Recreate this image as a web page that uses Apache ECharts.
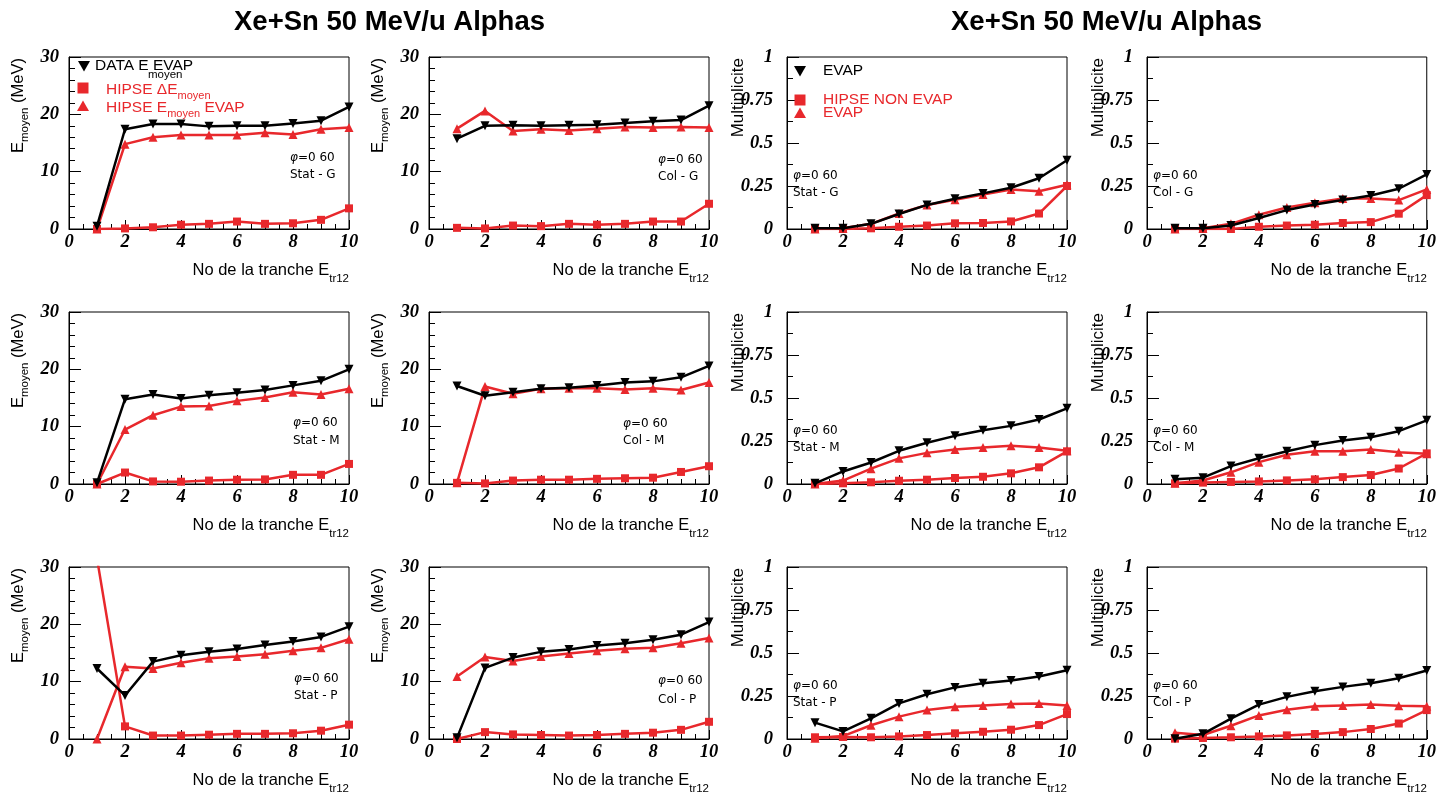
<!DOCTYPE html>
<html><head><meta charset="utf-8">
<script src="https://cdn.jsdelivr.net/npm/echarts@6/dist/echarts.min.js"></script>
<style>html,body{margin:0;padding:0;background:#fff}#c{width:1439px;height:792px}</style>
</head><body><div id="c"></div>
<script>
// ---------- DATA ----------
const tranches = [1,2,3,4,5,6,7,8,9,10];
const xTicks = [0,2,4,6,8,10];
const eTicks = [0,10,20,30];
const mTicks = [0,0.25,0.5,0.75,1];
const titleText = 'Xe+Sn 50 MeV/u Alphas';

// E moyen panels (black = DATA E_moyen EVAP, square = HIPSE ΔE_moyen, triangle = HIPSE E_moyen EVAP)
const eStatG_data  = [0.5,17.4,18.3,18.3,17.9,18.0,18.0,18.4,18.9,21.3];
const eStatG_delta = [0,0.1,0.3,0.75,0.9,1.3,0.9,1.0,1.6,3.6];
const eStatG_evap  = [0,14.8,16.0,16.4,16.4,16.4,16.8,16.5,17.4,17.7];
const eColG_data   = [15.75,18.0,18.1,18.0,18.1,18.2,18.5,18.8,19.0,21.5];
const eColG_delta  = [0.2,0.1,0.6,0.5,0.9,0.75,0.9,1.3,1.3,4.4];
const eColG_evap   = [17.5,20.6,17.1,17.4,17.2,17.5,17.8,17.7,17.8,17.7];
const eStatM_data  = [0.2,14.8,15.6,14.9,15.5,15.9,16.4,17.2,18.0,20.0];
const eStatM_delta = [0,2.0,0.45,0.4,0.6,0.75,0.8,1.6,1.6,3.5];
const eStatM_evap  = [0,9.5,12.0,13.5,13.6,14.5,15.1,16.0,15.6,16.6];
const eColM_data   = [17.1,15.4,16.0,16.6,16.8,17.2,17.7,17.9,18.6,20.6];
const eColM_delta  = [0.2,0.1,0.6,0.75,0.75,0.9,1.0,1.1,2.1,3.1];
const eColM_evap   = [0.2,17.0,15.75,16.6,16.7,16.7,16.5,16.7,16.4,17.7];
const eStatP_data  = [12.3,7.6,13.5,14.6,15.2,15.7,16.4,17.0,17.8,19.6];
const eStatP_delta = [31.5,2.2,0.6,0.6,0.75,0.9,0.9,1.0,1.45,2.5];
const eStatP_evap  = [0,12.6,12.3,13.3,14.1,14.4,14.8,15.4,15.9,17.4];
const eColP_data   = [0.2,12.4,14.2,15.2,15.6,16.3,16.7,17.3,18.2,20.4];
const eColP_delta  = [0,1.2,0.8,0.7,0.6,0.7,0.9,1.1,1.6,3.0];
const eColP_evap   = [10.9,14.3,13.6,14.4,14.9,15.4,15.75,15.9,16.7,17.6];

// Multiplicite panels (black = EVAP data, square = HIPSE NON EVAP, triangle = HIPSE EVAP)
const mStatG_data = [0.004,0.004,0.03,0.087,0.14,0.176,0.207,0.24,0.295,0.40];
const mStatG_non  = [0,0,0.004,0.013,0.02,0.033,0.035,0.044,0.09,0.25];
const mStatG_evap = [0,0.005,0.03,0.09,0.14,0.17,0.2,0.23,0.22,0.257];
const mColG_data  = [0.004,0.004,0.02,0.064,0.11,0.143,0.168,0.195,0.234,0.317];
const mColG_non   = [0,0,0,0.013,0.02,0.025,0.035,0.04,0.089,0.197];
const mColG_evap  = [0,0.005,0.03,0.083,0.125,0.153,0.178,0.178,0.168,0.23];
const mStatM_data = [0.004,0.073,0.125,0.193,0.24,0.28,0.313,0.338,0.375,0.44];
const mStatM_non  = [0,0.004,0.01,0.019,0.025,0.035,0.042,0.062,0.097,0.19];
const mStatM_evap = [0,0.02,0.089,0.149,0.181,0.2,0.212,0.222,0.212,0.193];
const mColM_data  = [0.027,0.037,0.104,0.15,0.19,0.226,0.253,0.272,0.307,0.37];
const mColM_non   = [0.004,0.008,0.012,0.015,0.021,0.027,0.04,0.052,0.09,0.178];
const mColM_evap  = [0.005,0.02,0.068,0.127,0.17,0.19,0.19,0.2,0.185,0.176];
const mStatP_data = [0.095,0.044,0.12,0.207,0.26,0.3,0.324,0.34,0.363,0.4];
const mStatP_non  = [0.01,0.012,0.01,0.015,0.023,0.033,0.042,0.054,0.081,0.145];
const mStatP_evap = [0.004,0.017,0.08,0.13,0.168,0.187,0.195,0.203,0.207,0.195];
const mColP_data  = [0.002,0.03,0.118,0.2,0.245,0.278,0.303,0.324,0.353,0.398];
const mColP_non   = [0.002,0.006,0.01,0.015,0.021,0.029,0.04,0.058,0.09,0.168];
const mColP_evap  = [0.037,0.023,0.077,0.137,0.17,0.19,0.195,0.2,0.193,0.19];

const panelTags = ['Stat - G','Col - G','Stat - G','Col - G','Stat - M','Col - M','Stat - M','Col - M','Stat - P','Col - P','Stat - P','Col - P'];

// ---------- LAYOUT ----------
const RED = '#e8282c';
const colLeft = [69, 429, 787, 1147];
const rowTop = [57, 312, 567];
const PW = 280, PH = 172;

const panels = [
  {kind:'E', black:eStatG_data, sq:eStatG_delta, tri:eStatG_evap},
  {kind:'E', black:eColG_data,  sq:eColG_delta,  tri:eColG_evap},
  {kind:'M', black:mStatG_data, sq:mStatG_non,   tri:mStatG_evap},
  {kind:'M', black:mColG_data,  sq:mColG_non,    tri:mColG_evap},
  {kind:'E', black:eStatM_data, sq:eStatM_delta, tri:eStatM_evap},
  {kind:'E', black:eColM_data,  sq:eColM_delta,  tri:eColM_evap},
  {kind:'M', black:mStatM_data, sq:mStatM_non,   tri:mStatM_evap},
  {kind:'M', black:mColM_data,  sq:mColM_non,    tri:mColM_evap},
  {kind:'E', black:eStatP_data, sq:eStatP_delta, tri:eStatP_evap},
  {kind:'E', black:eColP_data,  sq:eColP_delta,  tri:eColP_evap},
  {kind:'M', black:mStatP_data, sq:mStatP_non,   tri:mStatP_evap},
  {kind:'M', black:mColP_data,  sq:mColP_non,    tri:mColP_evap}
];
// annotation placement [x, yPhi, yTag]
const annPos = [[290,158,175],[658,159.5,177],[793,176,193],[1153,176,193],
                [293,423,441],[623,423.5,441],[793,431,448],[1153,431,448],
                [294,679,696],[658,681,699.5],[793,686,703],[1153,686,703]];

const SANS = 'Liberation Sans';
const SERIF = 'Liberation Serif';

const grids = [], xAxes = [], yAxes = [], series = [], graphics = [];

function pts(arr){ return tranches.map((x,k)=>[x, arr[k]]); }

panels.forEach((p, i) => {
  const col = i % 4, row = Math.floor(i / 4);
  const left = colLeft[col], top = rowTop[row];
  grids.push({left:left, top:top, width:PW, height:PH, show:true, borderColor:'#000', borderWidth:1, backgroundColor:'transparent'});
  const ticks = p.kind === 'E' ? eTicks : mTicks;
  const lblStyle = {fontFamily:SERIF, fontStyle:'italic', fontWeight:'bold', fontSize:18.5, color:'#000'};
  xAxes.push({gridIndex:i, type:'value', min:xTicks[0], max:xTicks[xTicks.length-1], interval:xTicks[1]-xTicks[0],
    axisLine:{show:true, onZero:false, lineStyle:{color:'#000', width:1}},
    axisTick:{show:true, inside:true, length:9, lineStyle:{color:'#000', width:1}},
    minorTick:{show:true, splitNumber:4, length:5, lineStyle:{color:'#000', width:1}},
    splitLine:{show:false}, minorSplitLine:{show:false},
    axisLabel:Object.assign({margin:4}, lblStyle)});
  yAxes.push({gridIndex:i, type:'value', min:ticks[0], max:ticks[ticks.length-1], interval:ticks[1]-ticks[0],
    axisLine:{show:true, onZero:false, lineStyle:{color:'#000', width:1}},
    axisTick:{show:true, inside:true, length:12, lineStyle:{color:'#000', width:1}},
    minorTick:{show:true, splitNumber: p.kind === 'E' ? 5 : 2, length:6, lineStyle:{color:'#000', width:1}},
    splitLine:{show:false}, minorSplitLine:{show:false},
    axisLabel:Object.assign({margin: p.kind === 'E' ? 10 : 14}, lblStyle)});

  const common = {type:'line', xAxisIndex:i, yAxisIndex:i, animation:false, clip:true, silent:true};
  series.push(Object.assign({}, common, {name:'sq'+i, data:pts(p.sq), symbol:'rect', symbolSize:8,
    lineStyle:{color:RED, width:2.5}, itemStyle:{color:RED}, z:2}));
  series.push(Object.assign({}, common, {name:'tri'+i, data:pts(p.tri), symbol:'triangle', symbolSize:9,
    lineStyle:{color:RED, width:2.5}, itemStyle:{color:RED}, z:3}));
  series.push(Object.assign({}, common, {name:'blk'+i, data:pts(p.black), symbol:'triangle', symbolRotate:180, symbolSize:9,
    lineStyle:{color:'#000', width:2.5}, itemStyle:{color:'#000'}, z:4}));

  // x axis title
  graphics.push({type:'text', x:left+PW, y:top+PH+41, z:10,
    style:{text:'{m|No de la tranche E}{s|tr12}', align:'right', textAlign:'right', verticalAlign:'middle', textVerticalAlign:'middle',
      rich:{m:{fontFamily:SANS, fontSize:16.5, lineHeight:16, fill:'#000', color:'#000', verticalAlign:'middle'},
            s:{fontFamily:SANS, fontSize:11.5, lineHeight:30, fill:'#000', color:'#000', verticalAlign:'bottom'}}}});
  // y axis title
  if (p.kind === 'E') {
    graphics.push({type:'text', x:left-51, y:top+1, rotation:Math.PI/2, z:10,
      style:{text:'{m|E}{s|moyen}{m| (MeV)}', align:'right', textAlign:'right', verticalAlign:'middle', textVerticalAlign:'middle',
        rich:{m:{fontFamily:SANS, fontSize:16.5, lineHeight:16, fill:'#000', color:'#000', verticalAlign:'middle'},
              s:{fontFamily:SANS, fontSize:11.5, lineHeight:26, fill:'#000', color:'#000', verticalAlign:'bottom'}}}});
  } else {
    graphics.push({type:'text', x:left-49, y:top+1, rotation:Math.PI/2, z:10,
      style:{text:'Multiplicite', fontFamily:SANS, fontSize:17, fill:'#000', align:'right', textAlign:'right', verticalAlign:'middle', textVerticalAlign:'middle'}});
  }
  // annotations
  const a = annPos[i];
  graphics.push({type:'text', x:a[0], y:a[1], z:10,
    style:{text:'{i|φ}{n|=0 60}', align:'left', textAlign:'left', verticalAlign:'middle', textVerticalAlign:'middle',
      rich:{i:{fontFamily:'DejaVu Sans', fontStyle:'italic', fontSize:12, fill:'#000', color:'#000'},
            n:{fontFamily:'DejaVu Sans', fontSize:12, fill:'#000', color:'#000'}}}});
  graphics.push({type:'text', x:a[0], y:a[2], z:10,
    style:{text:panelTags[i], fontFamily:'DejaVu Sans', fontSize:12, fill:'#000', align:'left', textAlign:'left', verticalAlign:'middle', textVerticalAlign:'middle'}});
});

// titles
[389.5, 1106.5].forEach(cx => graphics.push({type:'text', x:cx, y:22, z:10,
  style:{text:titleText, fontFamily:SANS, fontWeight:'bold', fontSize:27.5, fill:'#000', align:'center', textAlign:'center', verticalAlign:'middle', textVerticalAlign:'middle'}}));

// legend markers
function downTri(cx, cy, s, c){ return {type:'polygon', z:11, shape:{points:[[cx-s,cy-s*0.85],[cx+s,cy-s*0.85],[cx,cy+s*0.9]]}, style:{fill:c}}; }
function upTri(cx, cy, s, c){ return {type:'polygon', z:11, shape:{points:[[cx-s,cy+s*0.85],[cx+s,cy+s*0.85],[cx,cy-s*0.9]]}, style:{fill:c}}; }
function sqr(cx, cy, s, c){ return {type:'rect', z:11, shape:{x:cx-s, y:cy-s, width:2*s, height:2*s}, style:{fill:c}}; }
function lt(x, y, text, color, rich){
  const st = {text:text, fill:color, fontFamily:SANS, fontSize:15.5, align:'left', textAlign:'left', verticalAlign:'middle', textVerticalAlign:'middle'};
  if (rich) st.rich = rich;
  return {type:'text', x:x, y:y, z:11, style:st};
}
const legRich = (c) => ({m:{fontFamily:SANS, fontSize:15.5, lineHeight:15, fill:c, color:c, verticalAlign:'middle'},
                          s:{fontFamily:SANS, fontSize:11, lineHeight:22, fill:c, color:c, verticalAlign:'bottom'}});
// panel 1 legend
graphics.push(downTri(84, 66, 6, '#000'));
graphics.push(lt(95, 66, 'DATA E EVAP', '#000'));
graphics.push({type:'text', x:148, y:75, z:11, style:{text:'moyen', fill:'#000', fontFamily:SANS, fontSize:11.5, align:'left', textAlign:'left', verticalAlign:'middle', textVerticalAlign:'middle'}});
graphics.push(sqr(83, 88, 5.5, RED));
graphics.push(lt(106, 90, '{m|HIPSE ΔE}{s|moyen}', RED, legRich(RED)));
graphics.push(upTri(83, 106, 6, RED));
graphics.push(lt(106, 108, '{m|HIPSE E}{s|moyen}{m| EVAP}', RED, legRich(RED)));
// panel 3 legend
graphics.push(downTri(800, 71, 6, '#000'));
graphics.push(lt(823, 71, 'EVAP', '#000'));
graphics.push(sqr(800, 100, 5.5, RED));
graphics.push(lt(823, 100, 'HIPSE NON EVAP', RED));
graphics.push(upTri(800, 113, 6, RED));
graphics.push(lt(823, 113, 'EVAP', RED));

const chart = echarts.init(document.getElementById('c'), null, {renderer:'canvas', width:1439, height:792});
chart.setOption({
  backgroundColor:'#fff',
  animation:false,
  grid:grids, xAxis:xAxes, yAxis:yAxes, series:series, graphic:{elements:graphics}
});
</script></body></html>
